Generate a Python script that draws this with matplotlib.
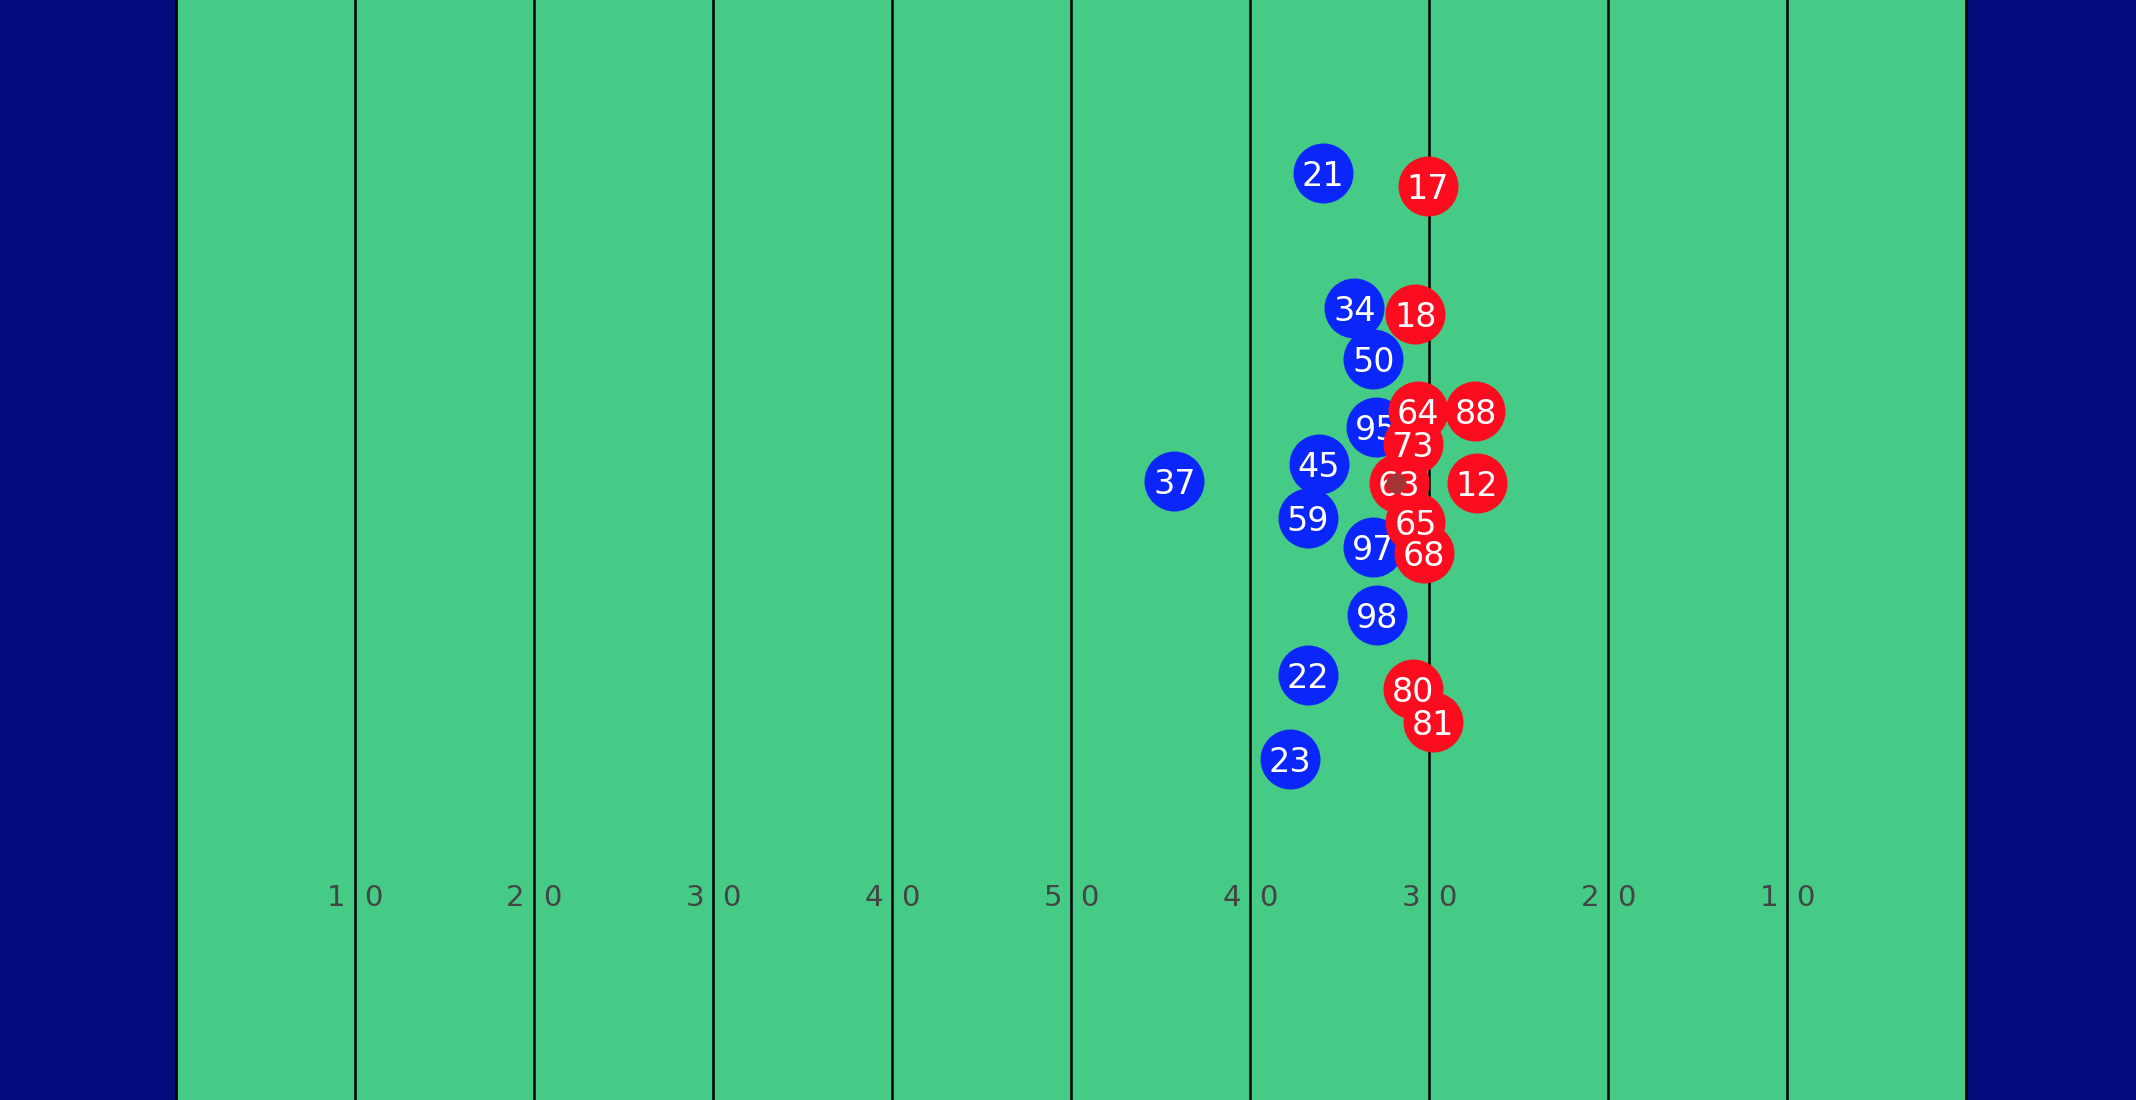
import matplotlib.pyplot as plt
import numpy as np

# positions in yards (x: 0-120 incl. end zones, y: 0-53.3)
blue_num = ['21', '34', '50', '95', '45', '37', '59', '97', '98', '22', '23']
blue_x = [74.08, 75.83, 76.89, 77.04, 73.85, 65.78, 73.24, 76.89, 77.12, 73.24, 72.25]
blue_y = [44.9, 38.4, 35.9, 32.6, 30.8, 30.0, 28.2, 26.8, 23.5, 20.6, 16.5]

red_num = ['17', '18', '88', '12', '64', '63', '73', '65', '68', '80', '81']
red_x = [79.94, 79.25, 82.60, 82.68, 79.40, 78.34, 79.10, 79.25, 79.71, 79.10, 80.24]
red_y = [44.3, 38.1, 33.4, 29.9, 33.4, 29.9, 31.8, 28.0, 26.5, 19.9, 18.3]

ball_x, ball_y = [78.19], [29.9]

yard_lines = [20, 30, 40, 50, 60, 70, 80, 90, 100]
yard_labels = ['10', '20', '30', '40', '50', '40', '30', '20', '10']

fig = plt.figure(figsize=(21.36, 11), dpi=100)
fig.patch.set_facecolor('#030a7b')
ax = fig.add_axes([0, 0, 1, 1])
ax.set_facecolor('#030a7b')
ax.set_xlim(0.18, 119.5)
ax.set_ylim(0, 53.3)
ax.axis('off')

# field
ax.axvspan(10, 110, color='#45cb86', zorder=0)
for x in [10, 110]:
    ax.axvline(x, color='black', lw=2, zorder=1)
for x, lab in zip(yard_lines, yard_labels):
    ax.axvline(x, color='black', lw=1.8, zorder=1)
    ax.text(x - 0.5, 9.8, lab[0], ha='right', va='center', fontsize=21, color='#444444', zorder=1)
    ax.text(x + 0.5, 9.8, lab[1], ha='left', va='center', fontsize=21, color='#444444', zorder=1)

# players
ax.scatter(blue_x, blue_y, s=1866, color='#0b26fb', linewidths=0, zorder=2)
for x, y, n in zip(blue_x, blue_y, blue_num):
    ax.text(x, y, n, ha='center', va='center_baseline', color='white', fontsize=24, zorder=3)

ax.scatter(red_x, red_y, s=1866, color='#fb0d1f', linewidths=0, zorder=4)
for x, y, n in zip(red_x, red_y, red_num):
    ax.text(x, y, n, ha='center', va='center_baseline', color='white', fontsize=24, zorder=5)

ax.scatter(ball_x, ball_y, s=210, color='#a53535', linewidths=0, zorder=6)

fig.savefig('out.png', dpi=100, facecolor=fig.get_facecolor())
